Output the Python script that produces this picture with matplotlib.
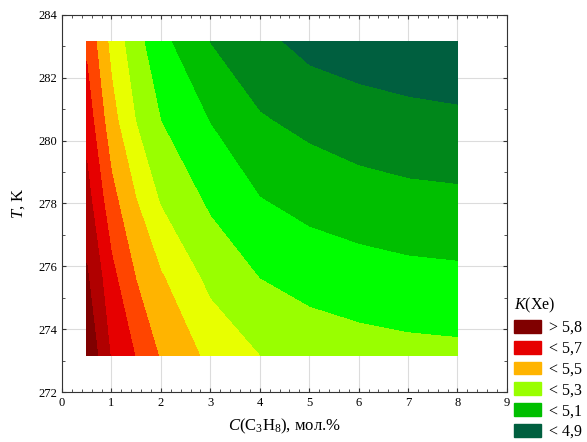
import numpy as np
import matplotlib
matplotlib.use("Agg")
import matplotlib.pyplot as plt
from matplotlib.patches import Patch

plt.rcParams['font.family'] = ['Liberation Serif', 'DejaVu Serif']
plt.rcParams['mathtext.fontset'] = 'custom'
plt.rcParams['mathtext.rm'] = 'Liberation Serif'
plt.rcParams['mathtext.it'] = 'Liberation Serif:italic'

# C(C3H8), мол.%
conc = [0.5, 1, 1.5, 2, 3, 4, 5, 6, 7, 8]
# T, K
temp = [273.15, 275.65, 278.15, 280.65, 283.15]
# K(Xe), rows follow temp, columns follow conc
k_xe = [
    [5.89, 5.69, 5.595, 5.49, 5.376, 5.300, 5.262, 5.242, 5.230, 5.224],
    [5.814, 5.63, 5.496, 5.41, 5.271, 5.198, 5.162, 5.142, 5.128, 5.121],
    [5.738, 5.533, 5.40, 5.288, 5.180, 5.102, 5.065, 5.042, 5.025, 5.018],
    [5.66, 5.437, 5.296, 5.199, 5.096, 5.009, 4.972, 4.942, 4.927, 4.919],
    [5.58, 5.37, 5.234, 5.127, 4.997, 4.925, 4.868, 4.850, 4.835, 4.820],
]

levels = [3.0, 4.9, 5.0, 5.1, 5.2, 5.3, 5.4, 5.5, 5.6, 5.7, 5.8, 7.0]
band_colors = ['#005f3f', '#00871a', '#00bf00', '#00ff00', '#99ff00',
               '#e8ff00', '#ffb400', '#ff4500', '#e60000', '#b00000', '#800000']

legend_labels = ['> 5,8', '< 5,7', '< 5,5', '< 5,3', '< 5,1', '< 4,9']
legend_colors = ['#800000', '#e60000', '#ffb400', '#99ff00', '#00bf00', '#005f3f']

fig = plt.figure(figsize=(5.87, 4.42), dpi=100)
ax = fig.add_axes([0.1056, 0.1131, 0.758, 0.853])

X, Y = np.meshgrid(conc, temp)
ax.contourf(X, Y, np.array(k_xe), levels=levels, colors=band_colors, zorder=2)

ax.set_xlim(0, 9)
ax.set_ylim(272, 284)
ax.set_xticks(np.arange(0, 10, 1))
ax.set_xticks(np.arange(0, 9.01, 0.2), minor=True)
ax.set_yticks(np.arange(272, 285, 2))
ax.set_yticks(np.arange(272, 285, 1), minor=True)
ax.grid(True, which='major', color='#dcdcdc', linewidth=0.8, zorder=0)
ax.set_axisbelow(True)
ax.tick_params(which='both', direction='in', top=True, right=True,
               labelsize=9, colors='#333333', labelcolor='black')
ax.tick_params(which='major', length=3)
ax.tick_params(which='minor', length=2)
for s in ax.spines.values():
    s.set_color('#333333')
    s.set_linewidth(0.8)

ax.set_xlabel(r'$C$(C$_3$H$_8$), мол.%', fontsize=12, labelpad=6)
ax.set_ylabel(r'$T$, K', fontsize=12, labelpad=8)

handles = [Patch(facecolor=c, edgecolor=c) for c in legend_colors]
fig.legend(handles, legend_labels, title=r'$K$(Xe)', loc='upper left',
           bbox_to_anchor=(514 / 587, 1 - 296 / 442), frameon=False,
           fontsize=11.5, title_fontsize=11.5, alignment='left',
           handlelength=1.7, handleheight=0.85, labelspacing=0.3,
           handletextpad=0.5, borderpad=0, borderaxespad=0)

fig.savefig('out.png', dpi=100)
